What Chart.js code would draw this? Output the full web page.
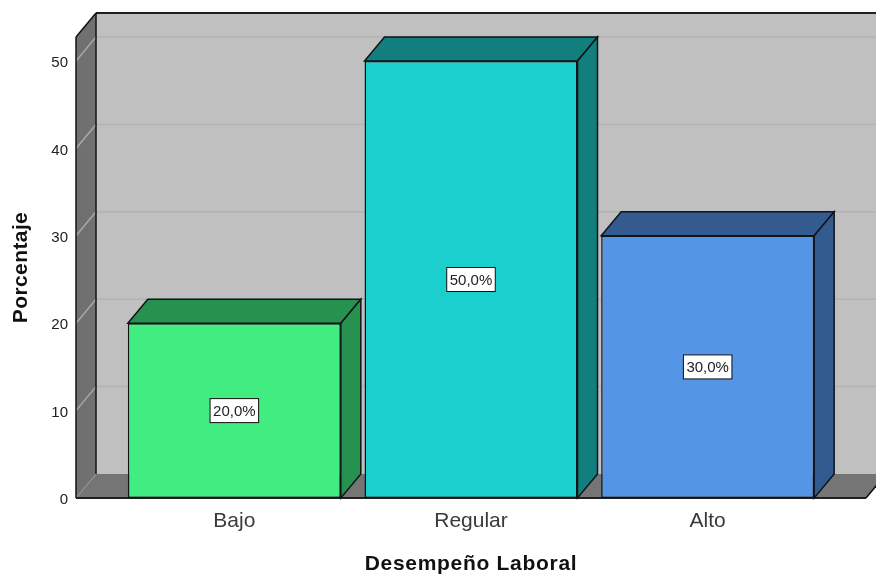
<!DOCTYPE html>
<html>
<head>
<meta charset="utf-8">
<title>Desempeño Laboral</title>
<script src="https://cdn.jsdelivr.net/npm/chart.js"></script>
<style>
  html, body { margin: 0; padding: 0; background: #fff; }
  canvas { display: block; }
</style>
</head>
<body>
<canvas id="myChart" width="876" height="575"></canvas>
<script>
const categories = ['Bajo', 'Regular', 'Alto'];
const percentages = [20, 50, 30];
const frontColors = ['#41EC80', '#1CCFCF', '#5595E5'];
const shadeColors = ['#27924F', '#127E7E', '#345B8F'];

const FONT = '"Liberation Sans", Arial, sans-serif';
const depthX = 20;
const depthY = 24;
const edge = '#101418';

function poly(ctx, points, fill, stroke, width) {
  ctx.beginPath();
  points.forEach((p, i) => i ? ctx.lineTo(p[0], p[1]) : ctx.moveTo(p[0], p[1]));
  ctx.closePath();
  if (fill) {
    ctx.fillStyle = fill;
    ctx.fill();
  }
  if (stroke) {
    ctx.strokeStyle = stroke;
    ctx.lineWidth = width || 1;
    ctx.stroke();
  }
}

function line(ctx, x1, y1, x2, y2, color, width) {
  ctx.beginPath();
  ctx.moveTo(x1, y1);
  ctx.lineTo(x2, y2);
  ctx.strokeStyle = color;
  ctx.lineWidth = width;
  ctx.stroke();
}

// axis titles are set a little wider than the font's default spacing
function spaceTitle(axis, spacing) {
  if (axis.spacedTitle) return;
  const drawTitle = axis.drawTitle;
  axis.drawTitle = function () {
    axis.ctx.save();
    axis.ctx.letterSpacing = spacing;
    drawTitle.call(axis);
    axis.ctx.restore();
  };
  axis.spacedTitle = true;
}

// back wall, side wall, floor and the gridlines running across them
const boxPlugin = {
  id: 'box',
  beforeDatasetsDraw(chart) {
    const { ctx, scales: { x, y } } = chart;
    const left = x.left - 40;
    const right = x.right + 40;
    const top = y.top;
    const bottom = y.bottom;

    ctx.save();
    poly(ctx, [[left + depthX, top - depthY], [right + depthX, top - depthY], [right + depthX, bottom - depthY], [left + depthX, bottom - depthY]], '#C0C0C0');
    poly(ctx, [[left, top], [left + depthX, top - depthY], [left + depthX, bottom - depthY], [left, bottom]], '#707070');
    poly(ctx, [[left, bottom], [left + depthX, bottom - depthY], [right + depthX, bottom - depthY], [right, bottom]], '#757575');

    y.ticks.forEach(tick => {
      const py = y.getPixelForValue(tick.value);
      if (tick.value === 0) {
        line(ctx, left, py, left + depthX, py - depthY, '#9A9A9A', 1);
      } else {
        line(ctx, left, py, left + depthX, py - depthY, '#A8A8A8', 1.5);
        line(ctx, left + depthX, py - depthY, right + depthX, py - depthY, '#B2B2B2', 1.5);
      }
    });

    line(ctx, left, top, left, bottom, edge, 1.5);
    line(ctx, left, top, left + depthX, top - depthY, edge, 1.5);
    line(ctx, left + depthX, top - depthY, right + depthX, top - depthY, '#202020', 2);
    line(ctx, left + depthX, top - depthY, left + depthX, bottom - depthY, edge, 1.5);
    line(ctx, left, bottom, right, bottom, '#202020', 2);
    line(ctx, right, bottom, right + depthX, bottom - depthY, edge, 1.5);

    // top and side faces of the bars
    chart.getDatasetMeta(0).data.forEach((bar, i) => {
      const half = bar.width / 2;
      const l = bar.x - half;
      const r = bar.x + half;
      poly(ctx, [[l, bar.y], [l + depthX, bar.y - depthY], [r + depthX, bar.y - depthY], [r, bar.y]], shadeColors[i], edge, 1.5);
      poly(ctx, [[r, bar.y], [r + depthX, bar.y - depthY], [r + depthX, bar.base - depthY], [r, bar.base]], shadeColors[i], edge, 1.5);
    });
    ctx.restore();
  }
};

// white value boxes in the middle of each bar
const valueBoxPlugin = {
  id: 'valueBox',
  afterDatasetsDraw(chart) {
    const { ctx, scales: { y } } = chart;
    ctx.save();
    ctx.font = '15px ' + FONT;
    ctx.textAlign = 'center';
    ctx.textBaseline = 'middle';
    chart.getDatasetMeta(0).data.forEach((bar, i) => {
      const value = percentages[i];
      const text = value.toFixed(1).replace('.', ',') + '%';
      const cy = y.getPixelForValue(value / 2);
      const w = ctx.measureText(text).width + 6;
      const h = 24;
      ctx.fillStyle = '#fff';
      ctx.fillRect(bar.x - w / 2, cy - h / 2, w, h);
      ctx.strokeStyle = '#111';
      ctx.lineWidth = 1;
      ctx.strokeRect(bar.x - w / 2, cy - h / 2, w, h);
      ctx.fillStyle = '#222';
      ctx.fillText(text, bar.x, cy + 1);
    });
    ctx.restore();
  }
};

new Chart(document.getElementById('myChart').getContext('2d'), {
  type: 'bar',
  data: {
    labels: categories,
    datasets: [{
      data: percentages,
      backgroundColor: frontColors,
      borderColor: edge,
      borderWidth: 1.5,
      borderSkipped: false,
      categoryPercentage: 1,
      barPercentage: 0.9,
    }],
  },
  options: {
    responsive: false,
    animation: false,
    layout: { padding: { top: 37, right: 50 } },
    plugins: {
      legend: { display: false },
      tooltip: { enabled: false },
    },
    scales: {
      x: {
        grid: { display: false },
        border: { display: false },
        ticks: { color: '#3a3a3a', font: { family: FONT, size: 21 }, padding: 3 },
        title: {
          display: true,
          text: 'Desempeño Laboral',
          color: '#111',
          font: { family: FONT, size: 21, weight: 'bold' },
          padding: { top: 0, bottom: -2 },
        },
        afterFit(axis) { axis.height = 77; axis.paddingLeft = 0; axis.paddingRight = 0; },
        afterUpdate(axis) { spaceTitle(axis, '0.7px'); },
      },
      y: {
        min: 0,
        max: 52.75,
        grid: { display: false },
        border: { display: false },
        ticks: { stepSize: 10, color: '#222', font: { family: FONT, size: 15 }, padding: 40, labelOffset: 2 },
        afterBuildTicks(axis) { axis.ticks = axis.ticks.filter(t => t.value % 10 === 0); },
        title: {
          display: true,
          text: 'Porcentaje',
          color: '#111',
          font: { family: FONT, size: 21, weight: 'bold' },
          padding: { top: 9, bottom: 0 },
        },
        afterFit(axis) { axis.width = 116; axis.paddingTop = 0; axis.paddingBottom = 0; },
        afterUpdate(axis) { spaceTitle(axis, '0.4px'); },
      },
    },
  },
  plugins: [boxPlugin, valueBoxPlugin],
});
</script>
</body>
</html>
